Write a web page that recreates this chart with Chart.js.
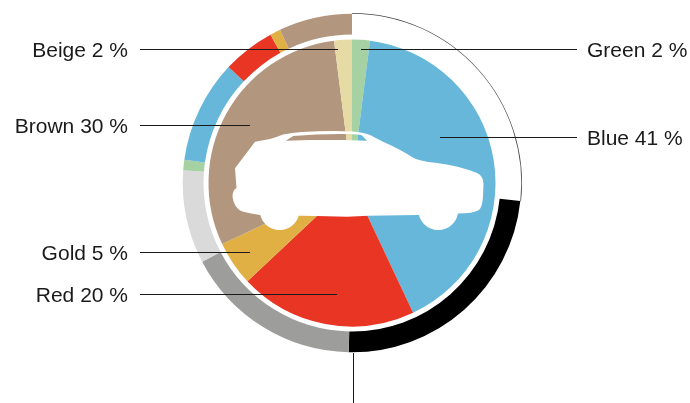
<!DOCTYPE html>
<html>
  <head>
    <script src="https://cdn.jsdelivr.net/npm/chart.js@4/dist/chart.umd.js"></script>
    <style>
      html, body { margin: 0; padding: 0; background: #fff; }
      #wrap { width: 690px; height: 403px; }
    </style>
  </head>

  <body>
    <div id="wrap"><canvas id="canvas" width="690" height="403"></canvas></div>
    <script>
      // inner pie, clockwise from the top
      const categories = ['Green', 'Blue', 'Red', 'Gold', 'Brown', 'Beige'];
      const shares = [2, 41, 20, 5, 30, 2];
      const shareColors = ['#a6d1a3', '#66b7d9', '#e83524', '#e0b044', '#b2967d', '#e6dba5'];

      // outer ring
      const ringNames = ['Empty', 'Black', 'Gray', 'Light gray', 'Green', 'Blue', 'Red', 'Gold', 'Brown'];
      const ringValues = [26.7, 23.6, 17, 8.9, 1, 9.8, 5, 1, 7];
      const ringColors = ['rgba(0,0,0,0)', '#000000', '#9d9d9c', '#dadada', '#a6d1a3', '#66b7d9', '#e83524', '#e0b044', '#b2967d'];

      // hairline along the empty part of the ring
      const hairValues = [26.7, 73.3];

      // leader lines: [category, line start x, line end x, line y, side]
      const leaders = [
        ['Beige', 140, 338, 49.5, 'left'],
        ['Green', 361, 577, 49.5, 'right'],
        ['Brown', 140, 250, 125.5, 'left'],
        ['Blue', 440, 577, 137.5, 'right'],
        ['Gold', 140, 250, 252.5, 'left'],
        ['Red', 140, 337, 294.5, 'left'],
      ];

      const callouts = {
        id: 'callouts',
        afterDraw(chart) {
          const ctx = chart.ctx;
          ctx.save();
          ctx.strokeStyle = '#1a1a1a';
          ctx.lineWidth = 1;
          ctx.fillStyle = '#1a1a1a';
          ctx.font = '21px "Liberation Sans"';
          ctx.textBaseline = 'alphabetic';
          leaders.forEach(([name, x0, x1, y, side]) => {
            ctx.beginPath();
            ctx.moveTo(x0, y);
            ctx.lineTo(x1, y);
            ctx.stroke();
            const label = name + ' ' + shares[categories.indexOf(name)] + ' %';
            ctx.textAlign = side === 'left' ? 'right' : 'left';
            ctx.fillText(label, side === 'left' ? 128 : 587, y + 7);
          });
          ctx.beginPath();
          ctx.moveTo(353.5, 353);
          ctx.lineTo(353.5, 403);
          ctx.stroke();
          ctx.restore();
        },
      };

      // white car on top of the pie, window cut out
      const car = {
        id: 'car',
        afterDatasetsDraw(chart) {
          const ctx = chart.ctx;
          ctx.save();
          ctx.fillStyle = '#fff';
          ctx.beginPath();
          // body, clockwise from the tail
          ctx.moveTo(255, 141.7);
          ctx.lineTo(270, 139);
          ctx.quadraticCurveTo(277, 137, 283, 134.5);
          ctx.quadraticCurveTo(292, 132.5, 302, 132);
          ctx.quadraticCurveTo(330, 130.5, 352, 131.5);
          ctx.quadraticCurveTo(363, 132, 370, 135);
          ctx.lineTo(383, 141.7);
          ctx.quadraticCurveTo(400, 149, 412, 157);
          ctx.quadraticCurveTo(418, 161, 437, 163);
          ctx.quadraticCurveTo(460, 166, 477, 173);
          ctx.quadraticCurveTo(483.5, 176, 483.5, 184);
          ctx.lineTo(483, 196);
          ctx.quadraticCurveTo(482.5, 207, 479, 210);
          ctx.quadraticCurveTo(473, 213.5, 458, 213.5);
          ctx.lineTo(418, 215);
          ctx.lineTo(368, 215.7);
          ctx.lineTo(347, 216.7);
          ctx.lineTo(317, 216);
          ctx.lineTo(260, 215);
          ctx.quadraticCurveTo(247, 213, 241, 211);
          ctx.quadraticCurveTo(234, 207, 232.5, 197);
          ctx.quadraticCurveTo(232.5, 190, 236.5, 188);
          ctx.lineTo(235, 168.3);
          ctx.lineTo(245, 155);
          ctx.closePath();
          // window
          ctx.moveTo(285.7, 140.7);
          ctx.lineTo(293.3, 136);
          ctx.quadraticCurveTo(320, 133.5, 350, 134);
          ctx.quadraticCurveTo(358, 134, 362, 135.5);
          ctx.lineTo(367, 140.7);
          ctx.lineTo(343, 140);
          ctx.lineTo(310, 140);
          ctx.closePath();
          ctx.fill('evenodd');
          // wheels
          ctx.beginPath();
          ctx.arc(279.6, 210, 20, 0, Math.PI * 2);
          ctx.arc(438.3, 210, 20, 0, Math.PI * 2);
          ctx.fill();
          ctx.restore();
        },
      };

      new Chart(document.getElementById('canvas').getContext('2d'), {
        type: 'doughnut',
        data: {
          labels: categories,
          datasets: [
            { data: hairValues, backgroundColor: ['#444444', 'rgba(0,0,0,0)'], borderWidth: 0, weight: 0.7 },
            { label: 'Ring', data: ringValues, backgroundColor: ringColors, borderWidth: 0, weight: 20.8 },
            { data: [1], backgroundColor: ['rgba(0,0,0,0)'], borderWidth: 0, weight: 5 },
            { label: 'Shares', data: shares, backgroundColor: shareColors, borderWidth: 0, weight: 143.5 },
          ],
        },
        options: {
          responsive: false,
          animation: false,
          cutout: 0,
          layout: { padding: { left: 182, right: 168, top: 13, bottom: 50 } },
          plugins: { legend: { display: false }, tooltip: { enabled: false } },
        },
        plugins: [car, callouts],
      });
    </script>
  </body>
</html>
